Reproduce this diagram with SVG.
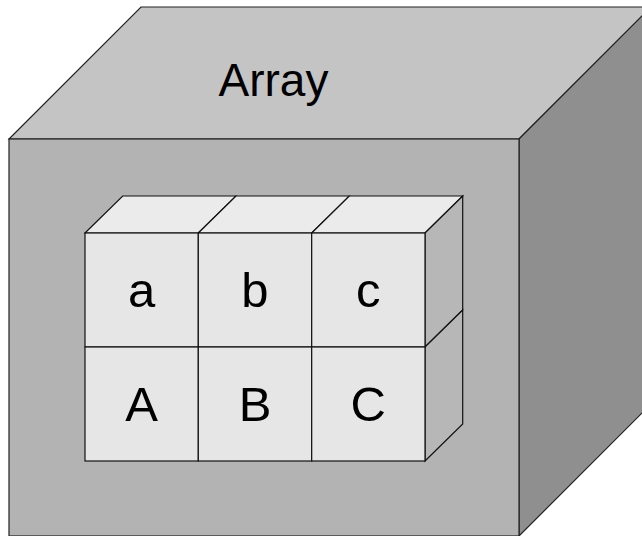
<svg xmlns="http://www.w3.org/2000/svg" width="642" height="536" viewBox="0 0 642 536">
  <style>
    .edge { stroke: #222; stroke-width: 1.2; stroke-linejoin: miter; }
    .big-top { fill: #c4c4c4; }
    .big-front { fill: #b3b3b3; }
    .big-side { fill: #8f8f8f; }
    .cell-front { fill: #e6e6e6; stroke: #111; stroke-width: 1.2; }
    .cell-top { fill: #ebebeb; stroke: #111; stroke-width: 1.2; }
    .cell-side { fill: #b7b7b7; stroke: #111; stroke-width: 1.2; }
    .label { font-family: "Liberation Sans", Arial, sans-serif; fill: #000; text-anchor: middle; }
  </style>

  <rect width="642" height="536" fill="#ffffff"/>

  <!-- outer cube -->
  <g id="array-cube">
    <polygon class="big-top edge" points="9,139 141,7 651,7 519,139"/>
    <polygon class="big-side edge" points="519,139 651,7 651,404 519,536"/>
    <rect class="big-front edge" x="9" y="139" width="510" height="397"/>
    <text class="label" x="273.5" y="96" font-size="46">Array</text>
  </g>

  <!-- element cubes -->
  <g id="cell-tops">
    <polygon class="cell-top" points="85,233 122.7,196 236,196 198.3,233"/>
    <polygon class="cell-top" points="198.3,233 236,196 349.3,196 311.7,233"/>
    <polygon class="cell-top" points="311.7,233 349.3,196 462.7,196 425,233"/>
  </g>
  <g id="cell-sides">
    <polygon class="cell-side" points="425,233 462.7,196 462.7,310 425,347"/>
    <polygon class="cell-side" points="425,347 462.7,310 462.7,424 425,461"/>
  </g>

  <g id="cell-a">
    <rect class="cell-front" x="85" y="233" width="113.3" height="114"/>
    <text class="label" x="141.7" y="307" font-size="49">a</text>
  </g>
  <g id="cell-b">
    <rect class="cell-front" x="198.3" y="233" width="113.4" height="114"/>
    <text class="label" x="255" y="307" font-size="49">b</text>
  </g>
  <g id="cell-c">
    <rect class="cell-front" x="311.7" y="233" width="113.3" height="114"/>
    <text class="label" x="368.3" y="307" font-size="49">c</text>
  </g>
  <g id="cell-A">
    <rect class="cell-front" x="85" y="347" width="113.3" height="114"/>
    <text class="label" x="141.7" y="421" font-size="49">A</text>
  </g>
  <g id="cell-B">
    <rect class="cell-front" x="198.3" y="347" width="113.4" height="114"/>
    <text class="label" x="255" y="421" font-size="49">B</text>
  </g>
  <g id="cell-C">
    <rect class="cell-front" x="311.7" y="347" width="113.3" height="114"/>
    <text class="label" x="368.3" y="421" font-size="49">C</text>
  </g>
</svg>
